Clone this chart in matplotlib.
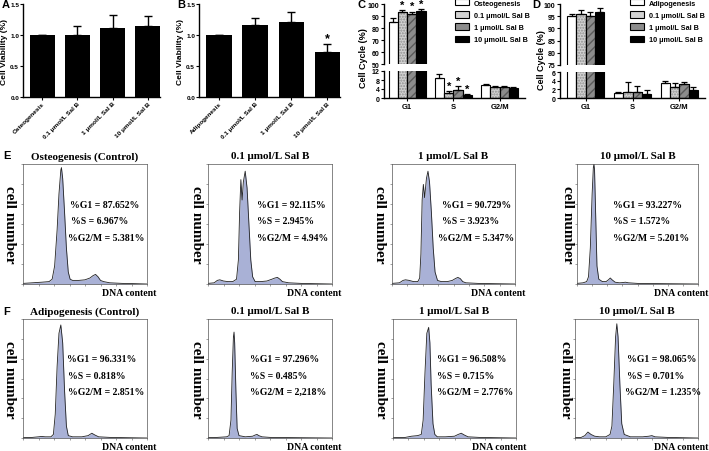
#!/usr/bin/env python3
# -*- coding: utf-8 -*-
"""
Cell viability (A, B), cell cycle bars (C, D) and flow cytometry
histograms (E, F) for Sal B treated osteogenic / adipogenic cells.
"""

import numpy as np
import matplotlib
matplotlib.use('Agg')
import matplotlib.pyplot as plt
from matplotlib.patches import Patch

# ---------------- data ----------------
via_labels_a = ['Osteogenesis', '0.1 μmol/L Sal B', '1 μmol/L Sal B', '10 μmol/L Sal B']
via_labels_b = ['Adipogenesis', '0.1 μmol/L Sal B', '1 μmol/L Sal B', '10 μmol/L Sal B']
via_a = [1.0, 1.0, 1.12, 1.15]
via_a_err = [0.0, 0.15, 0.20, 0.15]
via_b = [1.0, 1.16, 1.21, 0.73]
via_b_err = [0.0, 0.11, 0.16, 0.12]
via_b_star = [False, False, False, True]

phases = ['G1', 'S', 'G2/M']
legend_c = ['Osteogenesis', '0.1 μmol/L Sal B', '1 μmol/L Sal B', '10 μmol/L Sal B']
legend_d = ['Adipogenesis', '0.1 μmol/L Sal B', '1 μmol/L Sal B', '10 μmol/L Sal B']

# panel C, one list per treatment (G1, S, G2/M)
c_ctrl = [84.7, 8.9, 5.8]
c_ctrl_err = [3.3, 1.8, 0.4]
c_01 = [93.6, 2.1, 4.7]
c_01_err = [1.4, 1.2, 0.5]
c_1 = [91.7, 3.7, 4.7]
c_1_err = [1.9, 1.5, 0.5]
c_10 = [94.4, 1.3, 4.6]
c_10_err = [1.4, 0.5, 0.5]
c_star = [[False, False, False], [True, True, False], [True, True, False], [True, True, False]]

# panel D
d_ctrl = [95.2, 1.1, 3.4]
d_ctrl_err = [0.7, 0.4, 0.6]
d_01 = [95.9, 1.5, 2.6]
d_01_err = [1.8, 2.1, 0.8]
d_1 = [95.2, 1.3, 3.2]
d_1_err = [1.6, 1.4, 0.6]
d_10 = [96.8, 0.9, 1.8]
d_10_err = [1.6, 1.0, 0.7]

# flow histograms (DNA content channel, relative cell number)
e_titles = ['Osteogenesis (Control)', '0.1 μmol/L Sal B', '1 μmol/L Sal B', '10 μmol/L Sal B']
f_titles = ['Adipogenesis (Control)', '0.1 μmol/L Sal B', '1 μmol/L Sal B', '10 μmol/L Sal B']
e_g1 = ['87.652%', '92.115%', '90.729%', '93.227%']
e_s = ['6.967%', '2.945%', '3.923%', '1.572%']
e_g2m = ['5.381%', '4.94%', '5.347%', '5.201%']
f_g1 = ['96.331%', '97.296%', '96.508%', '98.065%']
f_s = ['0.818%', '0.485%', '0.715%', '0.701%']
f_g2m = ['2.851%', '2,218%', '2.776%', '1.235%']

e1_x = [0, 15, 30, 42, 47, 51, 55, 58, 61, 62, 64, 67, 70, 73, 76, 80, 90, 100, 108, 113, 117, 121, 125, 130, 140, 160, 180, 200]
e1_y = [0.5, 1, 1.5, 2, 4, 15, 45, 75, 95, 97, 88, 60, 30, 10, 4, 3, 3, 3.5, 5, 7, 8, 6, 3, 2, 1, 0.5, 0.3, 0]
e2_x = [0, 10, 15, 19, 25, 32, 40, 46, 49, 51, 53, 55, 57, 60, 63, 66, 69, 72, 76, 85, 95, 103, 108, 112, 116, 120, 130, 150, 200]
e2_y = [0.5, 1, 3, 3.5, 2.5, 2, 2, 4, 20, 60, 87, 70, 85, 94, 80, 50, 20, 6, 2, 2, 2.5, 4, 5, 5.5, 4, 2, 1, 0.5, 0]
e3_x = [0, 12, 18, 22, 28, 35, 42, 45, 47, 49, 51, 53, 56, 58.5, 61, 64, 67, 70, 74, 80, 90, 98, 103, 107, 111, 115, 120, 140, 200]
e3_y = [0.5, 1, 3, 3.5, 3, 2, 2, 5, 25, 70, 83, 72, 88, 94, 85, 60, 30, 10, 3, 2, 2, 3, 4.5, 5.5, 4.5, 2, 1, 0.5, 0]
e4_x = [0, 10, 16, 19, 22, 25, 27, 28, 29, 31, 33, 36, 42, 48, 52, 55, 58, 63, 70, 76, 80, 85, 100, 200]
e4_y = [0.5, 1, 2, 6, 30, 75, 97, 100, 95, 55, 15, 4, 2, 2, 3.5, 5, 3.5, 1.5, 1, 1.2, 1.5, 1, 0.5, 0]
f1_x = [0, 15, 25, 30, 36, 45, 49, 52, 55, 58, 61, 64, 67, 70, 73, 80, 95, 105, 111, 116, 122, 140, 200]
f1_y = [0.3, 0.5, 1, 1.3, 1, 1, 3, 20, 60, 88, 95, 80, 40, 10, 2, 1, 1, 2, 4, 2.5, 1, 0.5, 0]
f2_x = [0, 15, 30, 34, 37, 39, 41, 42, 43, 45, 47, 50, 60, 72, 76, 79, 82, 87, 100, 200]
f2_y = [0.3, 0.5, 1, 2, 15, 55, 85, 89, 80, 40, 8, 2, 1, 1.5, 2.5, 3, 2, 1, 0.5, 0]
f3_x = [0, 20, 30, 40, 46, 49, 52, 55, 58, 60, 62, 65, 68, 72, 85, 100, 106, 111, 116, 122, 140, 200]
f3_y = [0.3, 0.5, 1.5, 2, 3, 15, 55, 88, 93, 80, 45, 12, 3, 1, 1, 1.5, 3, 4, 2.5, 1, 0.5, 0]
f4_x = [0, 10, 16, 21, 26, 32, 40, 50, 57, 60, 63, 66, 68, 70, 73, 76, 80, 90, 110, 120, 125, 130, 150, 200]
f4_y = [0.3, 0.5, 2, 5, 3, 1.5, 1, 1, 3, 10, 45, 85, 96, 85, 45, 12, 3, 1, 1, 1.5, 2, 1, 0.5, 0]

# ---------------- layout helpers ----------------
W, H = 709, 452
SANS = 'Liberation Sans'
SERIF = 'Liberation Serif'
FACES = ['white', '#d2d2d2', '#8c8c8c', 'black']
HATCH = [None, '......', '////', None]
HATCH_COL = [None, '#909090', '#5a5a5a', None]

fig = plt.figure(figsize=(W / 100, H / 100), dpi=100)


def rect(x0, y0, x1, y1):
    # pixel box (top-left origin) -> figure fraction
    return [x0 / W, 1 - y1 / H, (x1 - x0) / W, (y1 - y0) / H]


def style_bar_ax(ax, size=5, length=2.5):
    for s in ['top', 'right']:
        ax.spines[s].set_visible(False)
    for s in ['left', 'bottom']:
        ax.spines[s].set_linewidth(1.0)
    ax.tick_params(labelsize=size, width=0.8, length=length, pad=0.8)
    for t in ax.get_yticklabels() + ax.get_xticklabels():
        t.set_fontweight('bold')
        t.set_family(SANS)


def viability(box, labels, vals, errs, stars=None):
    ax = fig.add_axes(rect(*box))
    x = np.arange(len(vals))
    ax.bar(x, vals, width=0.7, color='black')
    ax.errorbar(x, vals, yerr=[np.zeros(len(errs)), errs], fmt='none',
                ecolor='black', elinewidth=1.0, capsize=3, capthick=1.0)
    if stars:
        for i, st in enumerate(stars):
            if st:
                ax.text(i, vals[i] + errs[i] + 0.01, '*', ha='center', va='bottom',
                        fontsize=9, fontweight='bold', family=SANS)
    ax.set_xlim(-0.55, 3.35)
    ax.set_ylim(0, 1.5)
    ax.set_yticks([0, 0.5, 1.0, 1.5])
    ax.set_xticks(x)
    ax.set_xticklabels(labels, rotation=45, ha='right', rotation_mode='anchor')
    ax.set_ylabel('Cell Viability (%)', fontsize=6, fontweight='bold', family=SANS,
                  va='center')
    ax.yaxis.set_label_coords(-18 / (box[2] - box[0]), 0.5)
    style_bar_ax(ax, 4.6, 2)
    return ax


def draw_groups(ax, series, errs, lo, hi, stars=None, star_off=1.0):
    x = np.arange(len(phases))
    w = 0.2
    for k, (vals, err) in enumerate(zip(series, errs)):
        xs = x + (k - 1.5) * w
        ax.bar(xs, vals, width=w, color=FACES[k], edgecolor='black', linewidth=0.8)
        if HATCH[k]:
            ax.bar(xs, vals, width=w, fill=False, hatch=HATCH[k],
                   edgecolor=HATCH_COL[k], linewidth=0)
            ax.bar(xs, vals, width=w, fill=False, edgecolor='black', linewidth=0.8)
        ax.errorbar(xs, vals, yerr=[np.zeros(len(err)), err], fmt='none',
                    ecolor='black', elinewidth=0.9, capsize=2, capthick=0.9)
        if stars:
            for i in range(len(vals)):
                top = vals[i] + err[i]
                if stars[k][i] and lo <= top <= hi:
                    ax.text(xs[i], top + star_off, '*', ha='center',
                            va='bottom', fontsize=8, fontweight='bold', family=SANS)


def cell_cycle(top_box, bot_box, series, errs, top_lim, top_ticks, bot_lim, bot_ticks,
               xlim, stars=None):
    ax_t = fig.add_axes(rect(*top_box))
    ax_b = fig.add_axes(rect(*bot_box))
    draw_groups(ax_t, series, errs, *top_lim, stars, star_off=0.3)
    draw_groups(ax_b, series, errs, *bot_lim, stars, star_off=0.1)
    ax_t.set_ylim(*top_lim)
    ax_t.set_yticks(top_ticks)
    ax_b.set_ylim(*bot_lim)
    ax_b.set_yticks(bot_ticks)
    for ax in (ax_t, ax_b):
        ax.set_xlim(*xlim)
        style_bar_ax(ax)
    ax_t.spines['bottom'].set_visible(False)
    ax_t.set_xticks([])
    ax_b.set_xticks(np.arange(len(phases)))
    ax_b.set_xticklabels(phases, fontsize=5.5, fontweight='bold', family=SANS)
    return ax_t, ax_b


def legend(x0, y0, labels):
    handles = []
    for k in range(4):
        handles.append(Patch(facecolor=FACES[k], edgecolor='black', linewidth=0.8))
    fig.legend(handles, labels, loc='upper left', bbox_to_anchor=(x0 / W, 1 - y0 / H),
               frameon=False, prop={'family': SANS, 'weight': 'bold', 'size': 5.2},
               handlelength=1.9, handleheight=1.0, labelspacing=0.62,
               handletextpad=0.7, borderaxespad=0, borderpad=0)


def histogram(box, xs, ys, title, g1, s, g2m, tx, ylab_x):
    ax = fig.add_axes(rect(*box))
    ax.fill_between(xs, ys, color='#a9b1d6', lw=0)
    ax.plot(xs, ys, color='#222222', lw=0.6)
    ax.set_xlim(0, 200)
    ax.set_ylim(0, 100)
    ax.set_xticks(np.arange(0, 201, 25))
    ax.set_yticks(np.linspace(0, 100, 7))
    ax.tick_params(length=1.5, width=0.4, labelbottom=False, labelleft=False,
                   direction='out', color='#555555')
    for sp in ax.spines.values():
        sp.set_linewidth(0.5)
        sp.set_color('#555555')
    ax.set_title(title, fontsize=8, fontweight='bold', family=SERIF, pad=4)
    ax.set_ylabel('cell number', fontsize=11, fontweight='bold', family=SERIF,
                  rotation=-90, va='center')
    ax.yaxis.set_label_coords(ylab_x, 0.5)
    ax.text(0.86, -0.03, 'DNA content', transform=ax.transAxes, ha='center',
            va='top', fontsize=7, fontweight='bold', family=SERIF)
    lines = ['%G1 = ' + g1, '%S = ' + s, '%G2/M = ' + g2m]
    for j, (txt, yy) in enumerate(zip(lines, [0.665, 0.525, 0.39])):
        ax.text(tx[j], yy, txt, transform=ax.transAxes, ha='left', va='center',
                fontsize=7, fontweight='bold', family=SERIF)
    return ax


# ---------------- A, B ----------------
viability((23, 5, 160, 98), via_labels_a, via_a, via_a_err)
viability((199, 5, 340, 98), via_labels_b, via_b, via_b_err, via_b_star)

# ---------------- C, D ----------------
axc, axc2 = cell_cycle((384, 5, 525, 65), (384, 72, 525, 99),
                       [c_ctrl, c_01, c_1, c_10], [c_ctrl_err, c_01_err, c_1_err, c_10_err],
                       (50, 100), [50, 60, 70, 80, 90, 100], (0, 12), [0, 4, 8, 12],
                       (-0.5, 2.55), c_star)
axd, axd2 = cell_cycle((560, 5, 705, 66), (560, 73, 705, 99),
                       [d_ctrl, d_01, d_1, d_10], [d_ctrl_err, d_01_err, d_1_err, d_10_err],
                       (75, 100), [75, 80, 85, 90, 95, 100], (0, 6), [0, 2, 4, 6],
                       (-0.55, 2.55))
fig.text(364 / W, 1 - 58 / H, 'Cell Cycle (%)', rotation=90, ha='center', va='center',
         fontsize=6.5, fontweight='bold', family=SANS)
fig.text(541 / W, 1 - 60 / H, 'Cell Cycle (%)', rotation=90, ha='center', va='center',
         fontsize=6.5, fontweight='bold', family=SANS)
legend(455, 0, legend_c)
legend(630, 0, legend_d)

# ---------------- E, F ----------------
e_boxes = [(23, 165, 147, 285), (208, 165, 332, 285), (392, 165, 515, 285), (577, 165, 698, 285)]
f_boxes = [(23, 320, 147, 439), (208, 320, 332, 439), (393, 320, 516, 439), (575, 320, 698, 439)]
e_data = [(e1_x, e1_y), (e2_x, e2_y), (e3_x, e3_y), (e4_x, e4_y)]
f_data = [(f1_x, f1_y), (f2_x, f2_y), (f3_x, f3_y), (f4_x, f4_y)]
e_tx = [[0.38, 0.39, 0.36], [0.395, 0.395, 0.395], [0.41, 0.41, 0.37], [0.30, 0.30, 0.30]]
f_tx = [[0.355, 0.36, 0.365], [0.34, 0.34, 0.34], [0.36, 0.36, 0.36], [0.42, 0.42, 0.41]]
ylab_e = [-0.105, -0.09, -0.10, -0.08]
ylab_f = [-0.105, -0.09, -0.10, -0.08]

for i in range(4):
    histogram(e_boxes[i], *e_data[i], e_titles[i], e_g1[i], e_s[i], e_g2m[i], e_tx[i], ylab_e[i])
    histogram(f_boxes[i], *f_data[i], f_titles[i], f_g1[i], f_s[i], f_g2m[i], f_tx[i], ylab_f[i])

# panel letters
for lab, px, py in [('A', 2, 5), ('B', 177, 5), ('C', 357, 5), ('D', 532, 5),
                    ('E', 3, 156), ('F', 3, 312)]:
    fig.text(px / W, 1 - py / H, lab, ha='left', va='center', fontsize=8,
             fontweight='bold', family=SANS)

fig.savefig('out.png', dpi=100)
